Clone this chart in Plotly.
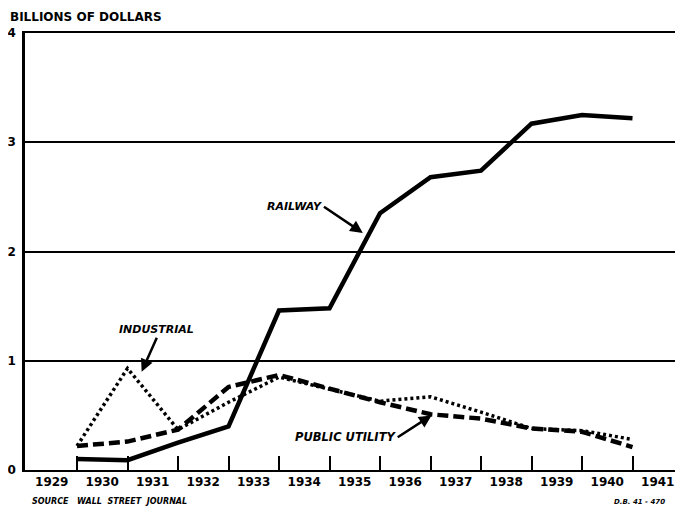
import plotly.graph_objects as go

# Data: year-end values, billions of dollars
years = [1929, 1930, 1931, 1932, 1933, 1934, 1935, 1936, 1937, 1938, 1939, 1940]
railway = [0.10, 0.09, 0.25, 0.40, 1.46, 1.48, 2.35, 2.68, 2.74, 3.17, 3.25, 3.22]
industrial = [0.22, 0.93, 0.37, 0.62, 0.85, 0.74, 0.63, 0.67, 0.53, 0.38, 0.36, 0.28]
public_utility = [0.22, 0.26, 0.37, 0.76, 0.87, 0.74, 0.62, 0.51, 0.47, 0.38, 0.35, 0.21]

tick_years = list(range(1929, 1942))
tick_labels = [str(y) for y in tick_years]
boundaries = [y + 0.5 for y in range(1929, 1941)]
y_ticks = [0, 1, 2, 3, 4]

# plotted at year end (between year labels)
xpos = [y + 0.5 for y in years]

FONT = "DejaVu Sans"

fig = go.Figure()
fig.add_trace(go.Scatter(x=xpos, y=railway, mode="lines", name="Railway",
                         line=dict(color="black", width=4.5)))
fig.add_trace(go.Scatter(x=xpos, y=industrial, mode="lines", name="Industrial",
                         line=dict(color="black", width=3.5, dash="3px,3px")))
fig.add_trace(go.Scatter(x=xpos, y=public_utility, mode="lines", name="Public Utility",
                         line=dict(color="black", width=4.5, dash="11px,5px")))

# page body has an 8px margin, so the figure is sized 675x501
fig.update_layout(
    width=675, height=501,
    margin=dict(l=17, r=0, t=25, b=39),
    paper_bgcolor="white", plot_bgcolor="white",
    showlegend=False,
    font=dict(family=FONT, color="black", size=11),
    xaxis=dict(
        range=[1928.47, 1941.5], automargin=False,
        tickvals=tick_years, ticktext=tick_labels,
        ticks="", showgrid=False, zeroline=False,
        showline=True, linecolor="black", linewidth=2, mirror=True,
        tickfont=dict(family=FONT, size=12, weight="bold"),
        minor=dict(tickvals=boundaries, ticks="inside", ticklen=14,
                   tickcolor="black", tickwidth=1.5, showgrid=False),
    ),
    yaxis=dict(
        range=[0, 4], automargin=False,
        tickvals=y_ticks,
        ticks="", showgrid=True, gridcolor="black", gridwidth=1.5,
        zeroline=False,
        showline=True, linecolor="black", linewidth=2.5,
        tickfont=dict(family=FONT, size=12, weight="bold"),
        ticklabelstandoff=4,
    ),
)

ann_font = dict(family=FONT, size=11, color="black", weight="bold", style="italic")

fig.add_annotation(text="BILLIONS OF DOLLARS", xref="paper", yref="paper",
                   x=-0.026, y=1.037, xanchor="left", yanchor="middle",
                   showarrow=False, font=dict(family=FONT, size=12, weight="bold", color="black"))

fig.add_annotation(text="RAILWAY", x=1935.16, y=2.17, ax=1934.39, ay=2.41,
                   axref="x", ayref="y", showarrow=True, arrowhead=2, arrowsize=1,
                   arrowwidth=2.5, arrowcolor="black", standoff=0, startstandoff=0,
                   xanchor="right", yanchor="middle", font=ann_font)
fig.add_annotation(text="INDUSTRIAL", x=1930.78, y=0.90, ax=1931.08, ay=1.21,
                   axref="x", ayref="y", showarrow=True, arrowhead=2, arrowsize=1,
                   arrowwidth=2.5, arrowcolor="black", standoff=0,
                   yanchor="bottom", font=ann_font)
fig.add_annotation(text="PUBLIC UTILITY", x=1936.52, y=0.50, ax=1935.85, ay=0.30,
                   axref="x", ayref="y", showarrow=True, arrowhead=2, arrowsize=1,
                   arrowwidth=2.5, arrowcolor="black", standoff=0,
                   xanchor="right", yanchor="middle",
                   font=dict(family=FONT, size=11.5, color="black", weight="bold", style="italic"))

fig.add_annotation(text="SOURCE   WALL  STREET  JOURNAL", xref="paper", yref="paper",
                   x=0.008, y=-0.073, xanchor="left", yanchor="middle", showarrow=False,
                   font=dict(family=FONT, size=8, weight="bold", style="italic", color="black"))
fig.add_annotation(text="D.B. 41 - 470", xref="paper", yref="paper",
                   x=0.975, y=-0.073, xanchor="right", yanchor="middle", showarrow=False,
                   font=dict(family=FONT, size=7, weight="bold", style="italic", color="black"))

fig.write_html("out.html")
